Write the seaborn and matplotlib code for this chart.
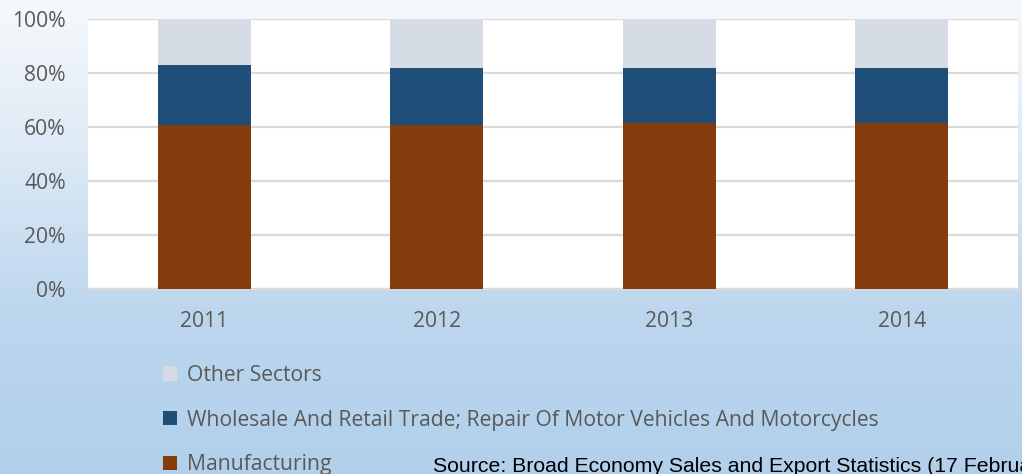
import numpy as np
import pandas as pd
import matplotlib
matplotlib.use("Agg")
import matplotlib.pyplot as plt
from matplotlib.patches import Patch
from matplotlib.colors import LinearSegmentedColormap
from matplotlib.ticker import PercentFormatter
import seaborn as sns

# Share of sales by sector (%)
years = ["2011", "2012", "2013", "2014"]
manufacturing = [60.7, 60.8, 61.4, 61.4]
wholesale_retail = [22.1, 21.1, 20.5, 20.5]
other_sectors = [17.2, 18.1, 18.1, 18.1]

series_names = ["Other Sectors",
                "Wholesale And Retail Trade; Repair Of Motor Vehicles And Motorcycles",
                "Manufacturing"]
colors = {"Other Sectors": "#d5dce6",
          "Wholesale And Retail Trade; Repair Of Motor Vehicles And Motorcycles": "#1f4e79",
          "Manufacturing": "#843c0c"}

df = pd.DataFrame({"year": years,
                   "Manufacturing": manufacturing,
                   "Wholesale": wholesale_retail,
                   "Other": other_sectors})
df["cum_wholesale"] = df["Manufacturing"] + df["Wholesale"]
df["cum_other"] = df["cum_wholesale"] + df["Other"]

sns.set_theme(style="white")
plt.rcParams["font.family"] = ["Open Sans", "DejaVu Sans"]

fs = 15.2
fig = plt.figure(figsize=(10.22, 4.74), dpi=100)

# gradient backdrop
bg = fig.add_axes([0, 0, 1, 1], zorder=-10)
grad_cmap = LinearSegmentedColormap.from_list("bg", ["#f6f9fc", "#dce9f5", "#bcd6ee", "#b2d0eb"])
bg.imshow(np.linspace(0, 1, 256).reshape(-1, 1), aspect="auto", cmap=grad_cmap,
          extent=[0, 1, 0, 1], origin="upper")
bg.set_axis_off()

ax = fig.add_axes([88 / 1022, 185 / 474, 930 / 1022, 270 / 474])
ax.set_facecolor("white")

width = 0.4
bar_kw = dict(width=width, ax=ax, zorder=3, edgecolor="none", linewidth=0, saturation=1)
sns.barplot(data=df, x="year", y="cum_other", color=colors[series_names[0]], **bar_kw)
sns.barplot(data=df, x="year", y="cum_wholesale", color=colors[series_names[1]], **bar_kw)
sns.barplot(data=df, x="year", y="Manufacturing", color=colors[series_names[2]], **bar_kw)

ax.set_xlim(-0.5, 3.5)
ax.set_ylim(0, 100)
ax.set_yticks([0, 20, 40, 60, 80, 100])
ax.yaxis.set_major_formatter(PercentFormatter(decimals=0))
ax.grid(axis="y", color="#dadada", linewidth=1.6, zorder=0)
ax.set_axisbelow(True)
for side in ["top", "right", "left"]:
    ax.spines[side].set_visible(False)
ax.spines["bottom"].set_color("#dadada")
ax.spines["bottom"].set_linewidth(1.6)
ax.set_xlabel("")
ax.set_ylabel("")
ax.tick_params(axis="both", length=0, labelsize=fs, colors="#595959")
ax.tick_params(axis="x", pad=16)
ax.tick_params(axis="y", pad=16)

handles = [Patch(facecolor=colors[n], edgecolor="none", label=n) for n in series_names]
fig.legend(handles=handles, loc="upper left", bbox_to_anchor=(163 / 1022, 1 - 365 / 474),
           frameon=False, fontsize=fs, labelcolor="#595959", handlelength=0.67,
           handleheight=0.67, handletextpad=0.45, labelspacing=1.12, borderaxespad=0,
           borderpad=0)

fig.text(433 / 1022, 1 - 466 / 474,
         "Source: Broad Economy Sales and Export Statistics (17 February 2016)",
         family=["Liberation Sans", "DejaVu Sans"], fontsize=15.3, color="black",
         va="center", ha="left")

fig.savefig("out.png", dpi=100)
